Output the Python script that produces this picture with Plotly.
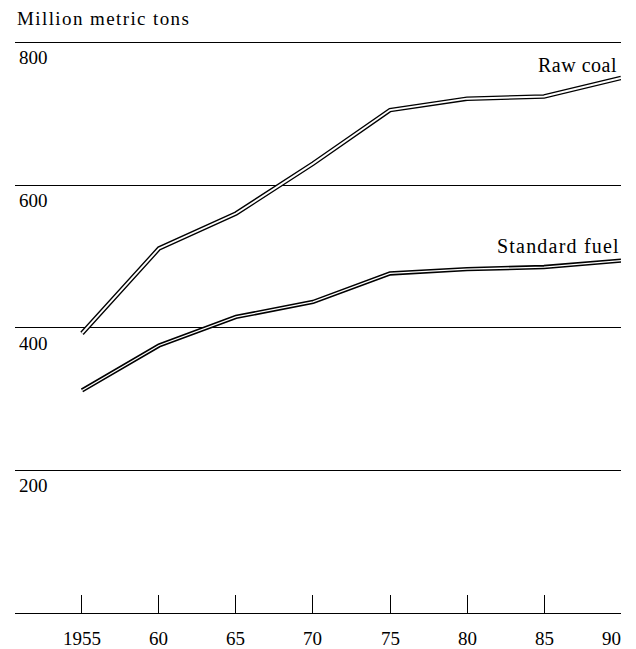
import plotly.graph_objects as go

years = [1955, 1960, 1965, 1970, 1975, 1980, 1985, 1990]
raw_coal = [392, 511, 560, 630, 705, 721, 724, 750]
standard_fuel = [312, 375, 415, 436, 476, 482, 485, 494]
x_tick_vals = [1955, 1960, 1965, 1970, 1975, 1980, 1985, 1990]
x_tick_text = ["1955", "60", "65", "70", "75", "80", "85", "90"]
y_tick_vals = [200, 400, 600, 800]
y_tick_text = ["200", "400", "600", "800"]

FONT = "Liberation Serif"


def spaced(t, px):
    return '<span style="letter-spacing:%spx">%s</span>' % (px, t)


fig = go.Figure()

for vals, outer, inner in [(raw_coal, 4.6, 1.9), (standard_fuel, 4.4, 1.3)]:
    fig.add_trace(go.Scatter(x=years, y=vals, mode="lines",
                             line=dict(color="black", width=outer), hoverinfo="skip"))
    fig.add_trace(go.Scatter(x=years, y=vals, mode="lines",
                             line=dict(color="white", width=inner), hoverinfo="skip"))

annotations = []
for v, t in zip(y_tick_vals, y_tick_text):
    annotations.append(dict(x=0, xref="paper", xanchor="left", xshift=2,
                            y=v, yref="y", yanchor="top", yshift=-3,
                            text=t, showarrow=False,
                            font=dict(family=FONT, size=19, color="black")))

# x tick labels (last one right-aligned at the axis end so it stays on the page)
for i, (v, t) in enumerate(zip(x_tick_vals, x_tick_text)):
    last = i == len(x_tick_vals) - 1
    annotations.append(dict(x=v, xref="x", xanchor="right" if last else "center",
                            xshift=2 if last else 0,
                            y=0, yref="y", yanchor="top", yshift=-13,
                            text=t, showarrow=False,
                            font=dict(family=FONT, size=19, color="black")))

annotations.append(dict(x=0, xref="paper", xanchor="left", xshift=0,
                        y=1.0017, yref="paper", yanchor="middle",
                        text=spaced("Million metric tons", 1.4), showarrow=False,
                        font=dict(family=FONT, size=19, color="black")))
annotations.append(dict(x=years[-1], xref="x", xanchor="right", xshift=-2,
                        y=raw_coal[-1], yref="y", yanchor="bottom", yshift=0,
                        text=spaced("Raw coal", 0.5), showarrow=False,
                        font=dict(family=FONT, size=20, color="black")))
annotations.append(dict(x=years[-1], xref="x", xanchor="right", xshift=1,
                        y=standard_fuel[-1], yref="y", yanchor="bottom", yshift=2,
                        text=spaced("Standard fuel", 1.2), showarrow=False,
                        font=dict(family=FONT, size=20, color="black")))

# The page adds an 8px body margin, so the figure is sized to the visible area.
fig.update_layout(
    width=628, height=641,
    margin=dict(l=7, r=15, t=12, b=36, autoexpand=False),
    paper_bgcolor="white", plot_bgcolor="white",
    showlegend=False,
    annotations=annotations,
    xaxis=dict(range=[1950.65, 1990], tickvals=x_tick_vals, showticklabels=False,
               ticks="inside", ticklen=18, tickwidth=1.2, tickcolor="black",
               showline=True, linecolor="black", linewidth=1.3,
               showgrid=False, zeroline=False, automargin=False),
    yaxis=dict(range=[0, 831.3], tickvals=y_tick_vals, showticklabels=False,
               showgrid=True, gridcolor="black", gridwidth=1.1,
               zeroline=False, showline=False, ticks="", automargin=False),
)

fig.write_html("out.html")
